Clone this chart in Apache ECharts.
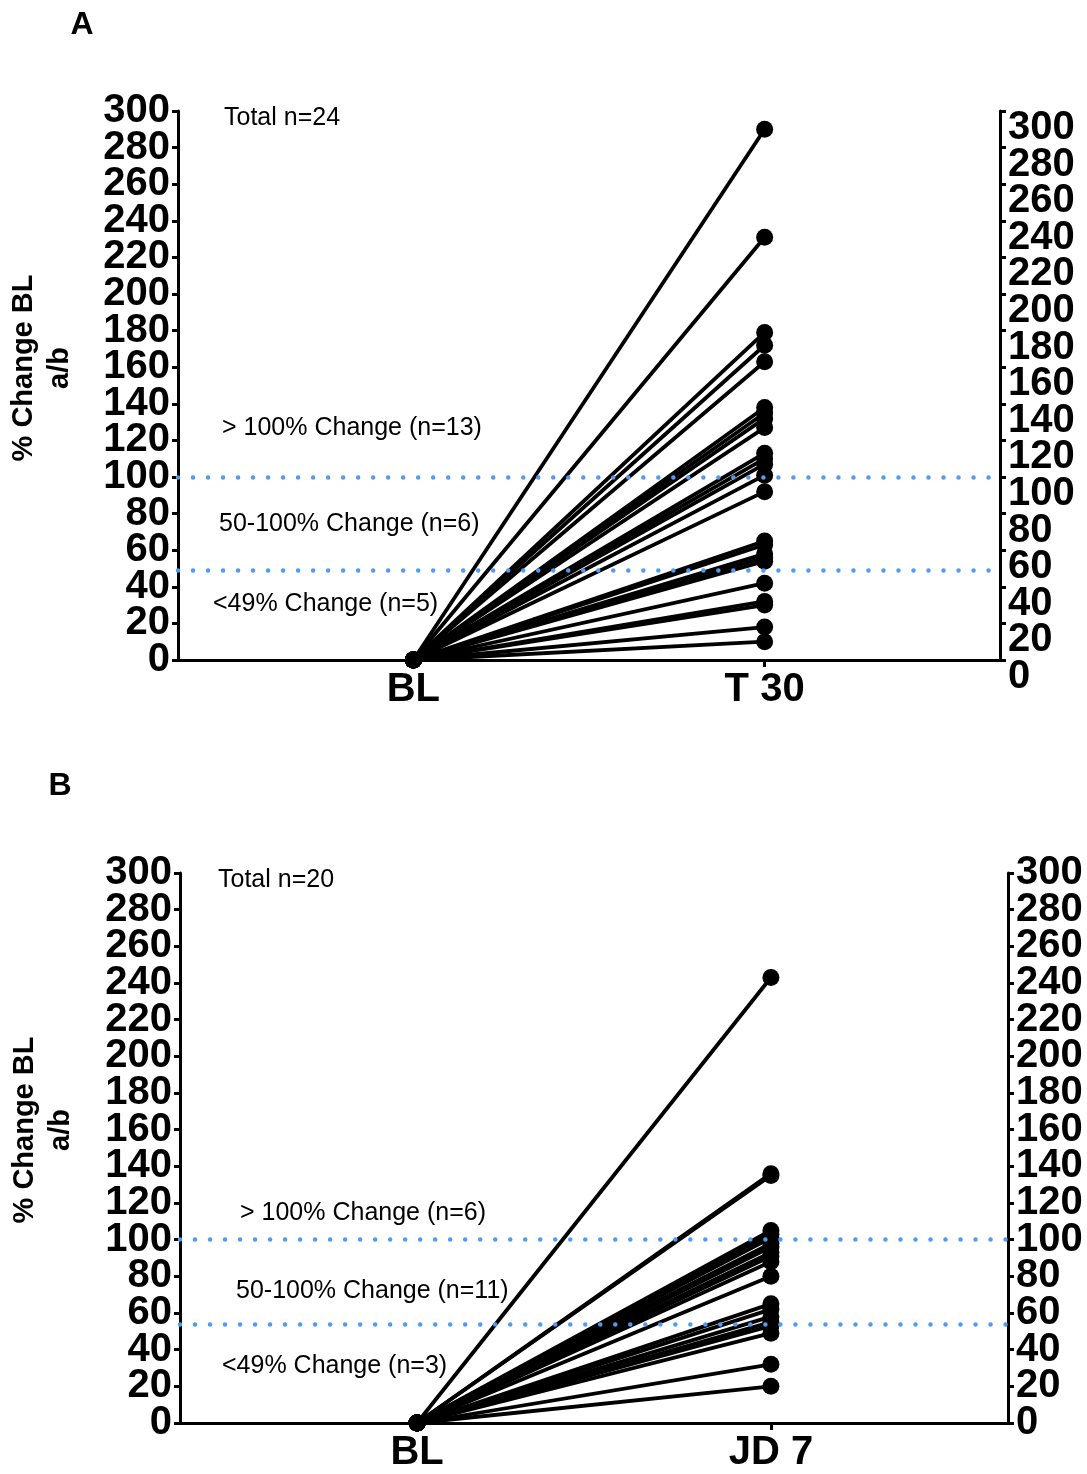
<!DOCTYPE html>
<html>
<head>
    <meta charset="UTF-8">
    <script src="https://cdn.jsdelivr.net/npm/echarts@6/dist/echarts.min.js"></script>
    <style>
        html, body { margin: 0; padding: 0; background: #fff; }
        #chart { width: 1087px; height: 1474px; }
    </style>
</head>
<body>
<div id="chart"></div>
<script>
    // panel A: BL -> T 30, panel B: BL -> JD 7
    var catsA = ['BL', 'T 30'];
    var catsB = ['BL', 'JD 7'];
    var yTicks = [0, 300, 20];
    var valuesA = [290, 231, 179, 172, 163, 138, 135, 132, 127, 113, 110, 107, 101,
                   92, 65, 63, 58, 56, 54, 42, 32, 30, 18, 10];
    var valuesB = [243, 136, 135, 105, 103, 101,
                   98, 96, 93, 91, 88, 80, 65, 62, 58, 55, 53, 49, 32, 20];
    var cutsA = [100, 49];
    var cutsB = [100, 54];
    var notesA = ['Total n=24', '> 100% Change (n=13)', '50-100% Change (n=6)', '<49% Change (n=5)'];
    var notesB = ['Total n=20', '> 100% Change (n=6)', '50-100% Change (n=11)', '<49% Change (n=3)'];

    var FONT = '"Liberation Sans", Arial, sans-serif';

    function xAxisFor(idx, cats) {
        return {
            type: 'value', gridIndex: idx, min: -0.67, max: 1.67,
            axisLine: { show: true, lineStyle: { color: '#000', width: 3 } },
            axisTick: { show: true, customValues: [0, 1], length: 7, lineStyle: { color: '#000', width: 3 } },
            axisLabel: {
                customValues: [0, 1], margin: 10, color: '#000', fontFamily: FONT,
                fontSize: 40, fontWeight: 'bold',
                formatter: function (v) { return cats[Math.round(v)]; }
            },
            splitLine: { show: false }
        };
    }

    // the big labels touch each other, so 0 and 300 go on a second axis (ends)
    // shifted = labels sit a bit below their ticks (right axis of panel A)
    function yAxisFor(idx, side, shifted, ends) {
        return {
            type: 'value', gridIndex: idx, position: side,
            min: yTicks[0], max: yTicks[1], interval: ends ? yTicks[1] : yTicks[2],
            axisLine: { show: !ends, onZero: false, lineStyle: { color: '#000', width: 3 } },
            axisTick: { show: true, length: 6, lineStyle: { color: '#000', width: 3 } },
            axisLabel: {
                margin: 8, hideOverlap: false,
                showMinLabel: ends, showMaxLabel: ends,
                color: '#000', fontFamily: FONT, fontSize: 40, fontWeight: 'bold',
                lineHeight: shifted ? 34 : 40,
                verticalAlign: shifted ? 'top' : 'middle'
            },
            splitLine: { show: false }
        };
    }

    function pairSeries(vals, idx, cuts) {
        return vals.map(function (v, i) {
            var s = {
                type: 'line', xAxisIndex: idx, yAxisIndex: idx * 4,
                data: [[0, 0], [1, v]],
                symbol: 'circle', symbolSize: 17,
                lineStyle: { color: '#000', width: 3.8 },
                itemStyle: { color: '#000' },
                silent: true, animation: false
            };
            if (i === 0) {
                s.markLine = {
                    silent: true, animation: false, symbol: ['none', 'none'],
                    label: { show: false },
                    lineStyle: { color: '#519bf0', width: 4.5, type: [0.01, 15], cap: 'round' },
                    data: cuts.map(function (c) { return { yAxis: c }; })
                };
            }
            return s;
        });
    }

    function note(txt, x, y) {
        return { type: 'text', x: x, y: y, style: { text: txt, font: '25px ' + FONT, fill: '#000', textVerticalAlign: 'middle' } };
    }

    function axisTitle(x, y) {
        return { type: 'text', x: x, y: y, rotation: Math.PI / 2,
                 style: { text: '% Change BL\na/b', font: 'bold 29px ' + FONT, lineHeight: 36, fill: '#000', textAlign: 'center', textVerticalAlign: 'middle' } };
    }

    var chart = echarts.init(document.getElementById('chart'));
    chart.setOption({
        backgroundColor: '#fff',
        animation: false,
        grid: [
            { left: 178, right: 87, top: 111, height: 549, containLabel: false, outerBoundsMode: 'none' },
            { left: 180, right: 79, top: 873, height: 550, containLabel: false, outerBoundsMode: 'none' }
        ],
        xAxis: [xAxisFor(0, catsA), xAxisFor(1, catsB)],
        yAxis: [
            yAxisFor(0, 'left', false, false), yAxisFor(0, 'left', false, true),
            yAxisFor(0, 'right', true, false), yAxisFor(0, 'right', true, true),
            yAxisFor(1, 'left', false, false), yAxisFor(1, 'left', false, true),
            yAxisFor(1, 'right', false, false), yAxisFor(1, 'right', false, true)
        ],
        series: pairSeries(valuesA, 0, cutsA).concat(pairSeries(valuesB, 1, cutsB)),
        graphic: [
            { type: 'text', x: 82, y: 25, style: { text: 'A', font: 'bold 32px ' + FONT, fill: '#000', textAlign: 'center', textVerticalAlign: 'middle' } },
            { type: 'text', x: 60, y: 786, style: { text: 'B', font: 'bold 32px ' + FONT, fill: '#000', textAlign: 'center', textVerticalAlign: 'middle' } },
            axisTitle(42, 368),
            axisTitle(43, 1130),
            note(notesA[0], 224, 118),
            note(notesA[1], 222, 428),
            note(notesA[2], 219, 524),
            note(notesA[3], 213, 604),
            note(notesB[0], 218, 880),
            note(notesB[1], 240, 1213),
            note(notesB[2], 236, 1291),
            note(notesB[3], 222, 1366)
        ]
    });
</script>
</body>
</html>
